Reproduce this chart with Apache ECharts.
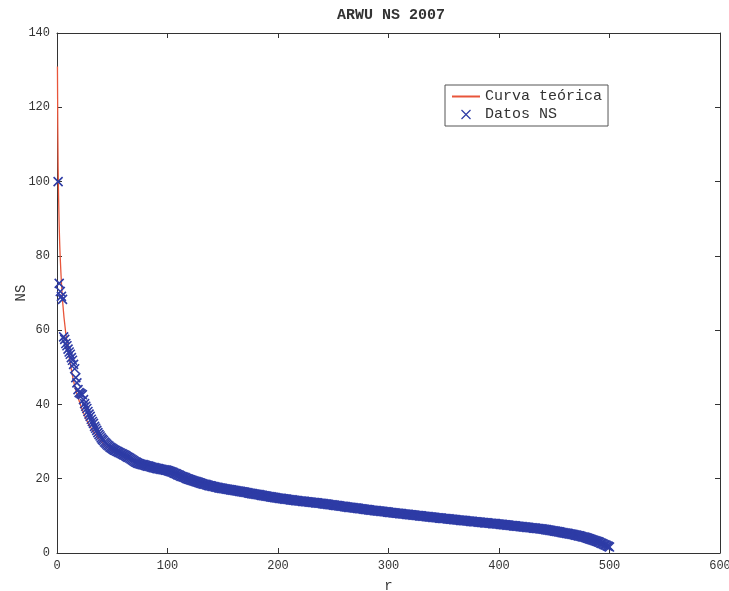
<!DOCTYPE html>
<html>
<head>
<meta charset="utf-8">
<script src="https://cdn.jsdelivr.net/npm/echarts@6/dist/echarts.min.js"></script>
<style>
  html, body { margin: 0; padding: 0; background: #ffffff; }
  #chart { width: 729px; height: 591px; }
</style>
</head>
<body>
<div id="chart"></div>
<script>
// ARWU 2007, indicator NS (Nature & Science): scores ordered by rank r
const nsRank1to100 = [
  100, 72.6, 70.4, 69.1, 68.3, 58.2, 57.5, 56.4, 55.8, 54.9,
  54.1, 53.5, 52.6, 51.9, 50.8, 49.6, 47.2, 45.8, 44.0, 43.2,
  43.0, 42.8, 42.6, 41.3, 40.2, 39.5, 38.9, 38.1, 37.4, 36.8,
  36.0, 35.4, 34.9, 34.1, 33.6, 33.0, 32.4, 31.9, 31.5, 31.0,
  30.6, 30.3, 29.9, 29.6, 29.3, 29.0, 28.8, 28.5, 28.3, 28.1,
  27.9, 27.7, 27.6, 27.4, 27.3, 27.1, 27.0, 26.8, 26.7, 26.5,
  26.4, 26.2, 26.0, 25.8, 25.7, 25.5, 25.3, 25.1, 24.9, 24.7,
  24.5, 24.4, 24.2, 24.1, 24.0, 23.9, 23.8, 23.8, 23.7, 23.6,
  23.5, 23.4, 23.4, 23.3, 23.2, 23.1, 23.0, 23.0, 22.9, 22.8,
  22.7, 22.7, 22.6, 22.5, 22.5, 22.4, 22.4, 22.3, 22.3, 22.2
];
const nsRank101to200 = [
  22.1, 22.0, 21.9, 21.8, 21.7, 21.5, 21.4, 21.3, 21.1, 21.0,
  20.9, 20.7, 20.6, 20.5, 20.4, 20.3, 20.1, 20.0, 19.9, 19.8,
  19.7, 19.6, 19.5, 19.4, 19.3, 19.2, 19.1, 19.0, 18.9, 18.8,
  18.7, 18.6, 18.5, 18.5, 18.4, 18.3, 18.2, 18.1, 18.1, 18.0,
  17.9, 17.9, 17.8, 17.7, 17.7, 17.6, 17.5, 17.5, 17.4, 17.4,
  17.3, 17.3, 17.2, 17.2, 17.1, 17.1, 17.0, 17.0, 16.9, 16.9,
  16.8, 16.8, 16.7, 16.7, 16.6, 16.6, 16.5, 16.5, 16.4, 16.4,
  16.3, 16.3, 16.2, 16.1, 16.1, 16.0, 16.0, 15.9, 15.9, 15.8,
  15.8, 15.7, 15.7, 15.6, 15.5, 15.5, 15.4, 15.4, 15.3, 15.3,
  15.2, 15.2, 15.1, 15.1, 15.0, 15.0, 14.9, 14.9, 14.8, 14.8
];
const nsRank201to300 = [
  14.7, 14.7, 14.7, 14.6, 14.6, 14.5, 14.5, 14.5, 14.4, 14.4,
  14.3, 14.3, 14.3, 14.2, 14.2, 14.1, 14.1, 14.1, 14.0, 14.0,
  14.0, 13.9, 13.9, 13.9, 13.8, 13.8, 13.8, 13.7, 13.7, 13.7,
  13.6, 13.6, 13.6, 13.5, 13.5, 13.5, 13.4, 13.4, 13.4, 13.3,
  13.3, 13.2, 13.2, 13.2, 13.1, 13.1, 13.0, 13.0, 13.0, 12.9,
  12.9, 12.8, 12.8, 12.8, 12.7, 12.7, 12.6, 12.6, 12.6, 12.5,
  12.5, 12.4, 12.4, 12.3, 12.3, 12.3, 12.2, 12.2, 12.1, 12.1,
  12.1, 12.0, 12.0, 11.9, 11.9, 11.9, 11.8, 11.8, 11.7, 11.7,
  11.7, 11.6, 11.6, 11.5, 11.5, 11.5, 11.4, 11.4, 11.4, 11.3,
  11.3, 11.3, 11.2, 11.2, 11.2, 11.1, 11.1, 11.1, 11.0, 11.0
];
const nsRank301to400 = [
  10.9, 10.9, 10.9, 10.8, 10.8, 10.8, 10.7, 10.7, 10.7, 10.6,
  10.6, 10.6, 10.5, 10.5, 10.5, 10.4, 10.4, 10.4, 10.3, 10.3,
  10.3, 10.2, 10.2, 10.2, 10.1, 10.1, 10.1, 10.0, 10.0, 10.0,
  9.9, 9.9, 9.9, 9.8, 9.8, 9.8, 9.7, 9.7, 9.7, 9.6,
  9.6, 9.6, 9.5, 9.5, 9.5, 9.4, 9.4, 9.4, 9.3, 9.3,
  9.3, 9.3, 9.2, 9.2, 9.2, 9.1, 9.1, 9.1, 9.0, 9.0,
  9.0, 8.9, 8.9, 8.9, 8.8, 8.8, 8.8, 8.7, 8.7, 8.7,
  8.6, 8.6, 8.6, 8.5, 8.5, 8.5, 8.4, 8.4, 8.4, 8.4,
  8.3, 8.3, 8.3, 8.2, 8.2, 8.2, 8.1, 8.1, 8.1, 8.1,
  8.0, 8.0, 8.0, 7.9, 7.9, 7.9, 7.9, 7.8, 7.8, 7.8
];
const nsRank401to500 = [
  7.7, 7.7, 7.7, 7.6, 7.6, 7.6, 7.5, 7.5, 7.5, 7.4,
  7.4, 7.4, 7.3, 7.3, 7.3, 7.2, 7.2, 7.2, 7.1, 7.1,
  7.1, 7.0, 7.0, 7.0, 6.9, 6.9, 6.9, 6.8, 6.8, 6.8,
  6.7, 6.7, 6.7, 6.6, 6.6, 6.6, 6.5, 6.5, 6.5, 6.4,
  6.4, 6.3, 6.3, 6.2, 6.2, 6.1, 6.1, 6.0, 6.0, 5.9,
  5.9, 5.8, 5.8, 5.7, 5.7, 5.6, 5.5, 5.5, 5.4, 5.4,
  5.3, 5.3, 5.2, 5.1, 5.1, 5.0, 5.0, 4.9, 4.8, 4.8,
  4.7, 4.6, 4.6, 4.5, 4.4, 4.3, 4.3, 4.2, 4.1, 4.0,
  3.9, 3.8, 3.7, 3.6, 3.5, 3.4, 3.3, 3.2, 3.1, 3.0,
  2.9, 2.7, 2.6, 2.5, 2.3, 2.2, 2.1, 1.9, 1.8, 1.6
];

// Fitted (theoretical) rank–score curve, sampled at these ranks
const curveR  = [0.4, 1, 2, 3, 5, 8, 12, 16, 20, 25, 30, 40, 50, 60, 75, 100, 130, 160, 200, 250, 300, 350, 400, 440, 470, 490, 500];
const curveNS = [131, 104, 88, 79, 68, 59, 51, 45, 41, 37, 34, 30, 27.5, 25.8, 23.8, 21.5, 19, 17, 15, 13, 11.2, 9.6, 8, 6.6, 5, 3.5, 1.8];

const xTicks = [0, 100, 200, 300, 400, 500, 600];
const yTicks = [0, 20, 40, 60, 80, 100, 120, 140];

const nsScores = [].concat(nsRank1to100, nsRank101to200, nsRank201to300, nsRank301to400, nsRank401to500);
const nsPoints = nsScores.map((v, i) => [i + 1, v]);
const curvePoints = curveR.map((r, i) => [r, curveNS[i]]);

const mono = '"Liberation Mono", "DejaVu Sans Mono", monospace';
const frame = { show: true, onZero: false, lineStyle: { color: '#333', width: 1 } };
const innerTicks = { show: true, inside: true, length: 5, lineStyle: { color: '#333' } };
const tickFont = { fontFamily: mono, fontSize: 12, color: '#333', margin: 7 };

const chart = echarts.init(document.getElementById('chart'), null, { renderer: 'canvas' });
chart.setOption({
  backgroundColor: '#ffffff',
  animation: false,
  title: {
    text: 'ARWU NS 2007',
    left: 386, top: 3, textAlign: 'center',
    textStyle: { fontFamily: mono, fontSize: 15, fontWeight: 'bold', color: '#333' }
  },
  grid: { left: 57, right: 9, top: 33, bottom: 38, containLabel: false, outerBoundsMode: 'none' },
  legend: {
    orient: 'vertical',
    left: 445, top: 85,
    padding: [4, 6, 4, 6],
    itemGap: 3,
    itemWidth: 28, itemHeight: 9,
    backgroundColor: '#ffffff',
    borderColor: '#555', borderWidth: 1,
    textStyle: { fontFamily: mono, fontSize: 15, color: '#333' },
    data: [
      { name: 'Curva teórica', itemStyle: { opacity: 0 } },
      { name: 'Datos NS', itemStyle: { borderWidth: 1.2 } }
    ]
  },
  xAxis: [{
    type: 'value', min: xTicks[0], max: xTicks[xTicks.length - 1], interval: 100,
    position: 'bottom',
    name: 'r', nameLocation: 'middle', nameGap: 26,
    nameTextStyle: { fontFamily: mono, fontSize: 14, color: '#333' },
    axisLine: frame, axisTick: innerTicks, splitLine: { show: false },
    axisLabel: tickFont
  }, {
    type: 'value', min: xTicks[0], max: xTicks[xTicks.length - 1], interval: 100,
    position: 'top',
    axisLine: frame, axisTick: innerTicks, splitLine: { show: false },
    axisLabel: { show: false }
  }],
  yAxis: [{
    type: 'value', min: yTicks[0], max: yTicks[yTicks.length - 1], interval: 20,
    position: 'left',
    name: 'NS', nameLocation: 'middle', nameGap: 29, nameRotate: 90,
    nameMoveOverlap: false,
    nameTextStyle: { fontFamily: mono, fontSize: 14, color: '#333' },
    axisLine: frame, axisTick: innerTicks, splitLine: { show: false },
    axisLabel: tickFont
  }, {
    type: 'value', min: yTicks[0], max: yTicks[yTicks.length - 1], interval: 20,
    position: 'right',
    axisLine: frame, axisTick: innerTicks, splitLine: { show: false },
    axisLabel: { show: false }
  }],
  series: [{
    name: 'Curva teórica',
    type: 'line',
    xAxisIndex: 0, yAxisIndex: 0,
    data: curvePoints,
    smooth: 0.35,
    symbol: 'none',
    lineStyle: { color: '#e8553a', width: 1.3 },
    itemStyle: { color: '#e8553a' },
    z: 2
  }, {
    name: 'Datos NS',
    type: 'scatter',
    xAxisIndex: 0, yAxisIndex: 0,
    data: nsPoints,
    symbol: 'path://M0,0L10,10M10,0L0,10',
    symbolSize: 9,
    itemStyle: { color: 'none', borderColor: '#2e3ca6', borderWidth: 1.6, opacity: 1 },
    z: 3
  }]
});
</script>
</body>
</html>
